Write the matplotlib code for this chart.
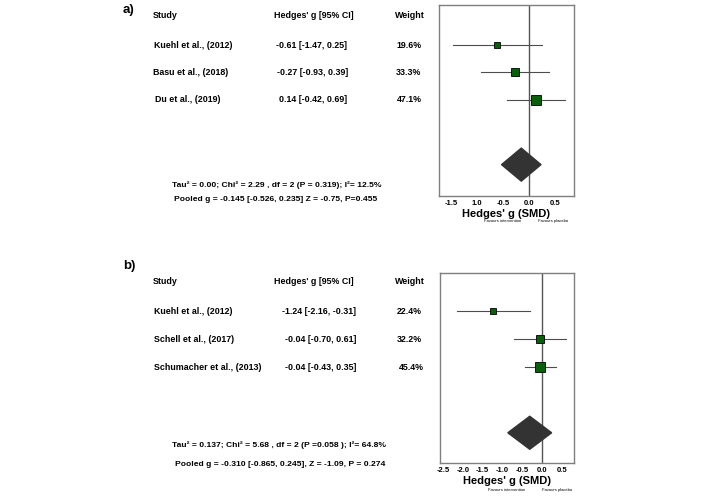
import matplotlib
matplotlib.use('Agg')
import matplotlib.pyplot as plt
from matplotlib.patches import Polygon

plt.rcParams['font.family'] = ['Liberation Sans', 'DejaVu Sans']
plt.rcParams['font.weight'] = 'bold'

# panel a
a_studies = ['Kuehl et al., (2012)', 'Basu et al., (2018)', 'Du et al., (2019)']
a_g = [-0.61, -0.27, 0.14]
a_lo = [-1.47, -0.93, -0.42]
a_hi = [0.25, 0.39, 0.69]
a_w = [19.6, 33.3, 47.1]
a_pool = [-0.145, -0.526, 0.235]
a_ticks = [-1.5, -1.0, -0.5, 0.0, 0.5]
a_ticklabels = ['-1.5', '1.0', '-0.5', '0.0', '0.5']
a_stats = ['Tau\u00b2 = 0.00; Chi\u00b2 = 2.29 , df = 2 (P = 0.319); I\u00b2= 12.5%',
           'Pooled g = -0.145 [-0.526, 0.235] Z = -0.75, P=0.455']

# panel b
b_studies = ['Kuehl et al., (2012)', 'Schell et al., (2017)', 'Schumacher et al., (2013)']
b_g = [-1.24, -0.04, -0.04]
b_lo = [-2.16, -0.70, -0.43]
b_hi = [-0.31, 0.61, 0.35]
b_w = [22.4, 32.2, 45.4]
b_pool = [-0.310, -0.865, 0.245]
b_ticks = [-2.5, -2.0, -1.5, -1.0, -0.5, 0.0, 0.5]
b_ticklabels = ['-2.5', '-2.0', '-1.5', '-1.0', '-0.5', '0.0', '0.5']
b_stats = ['Tau\u00b2 = 0.137; Chi\u00b2 = 5.68 , df = 2 (P =0.058 ); I\u00b2= 64.8%',
           'Pooled g = -0.310 [-0.865, 0.245], Z = -1.09, P = 0.274']

W, H = 706, 497
fig = plt.figure(figsize=(W / 100, H / 100), dpi=100)


def ftext(x, y, s, **kw):
    kw.setdefault('fontsize', 6.4)
    kw.setdefault('va', 'center')
    fig.text(x / W, 1 - y / H, s, **kw)


def forest(rect, g, lo, hi, w, pool, ticks, ticklabels, xlim, ylim, diam_h):
    ax = fig.add_axes(rect)
    rows = [1, 2, 3]
    for r, gi, l, h, wi in zip(rows, g, lo, hi, w):
        ax.plot([l, h], [r, r], color='#4d4d4d', lw=0.8, zorder=2)
        ax.plot(gi, r, 's', ms=2.8 + wi * 0.085, mfc='#0b5e0b', mec='black', mew=0.6, zorder=3)
    yp = 5.35
    ax.add_patch(Polygon([[pool[1], yp], [pool[0], yp - diam_h], [pool[2], yp], [pool[0], yp + diam_h]],
                         closed=True, color='#333333', zorder=3))
    ax.axvline(0, color='#555555', lw=1.0, zorder=1)
    ax.set_xlim(*xlim)
    ax.set_ylim(*ylim)
    ax.set_yticks([])
    ax.set_xticks(ticks)
    ax.set_xticklabels(ticklabels, fontsize=5.5, fontweight='bold')
    ax.tick_params(axis='x', length=0, pad=3)
    for sp in ax.spines.values():
        sp.set_color('#7f7f7f')
        sp.set_linewidth(1.0)
    ax.set_xlabel("Hedges' g (SMD)", fontsize=8, fontweight='bold', labelpad=1)
    return ax


forest([439 / W, 1 - 196 / H, 135 / W, 191 / H], a_g, a_lo, a_hi, a_w, a_pool,
       a_ticks, a_ticklabels, (-1.73, 0.87), (6.49, -0.45), 0.6)
forest([440 / W, 1 - 463 / H, 134 / W, 190 / H], b_g, b_lo, b_hi, b_w, b_pool,
       b_ticks, b_ticklabels, (-2.58, 0.81), (6.43, -0.36), 0.59)

# favours labels
ftext(503, 221, 'Favours intervention', fontsize=3, ha='center', fontweight='normal')
ftext(553, 221, 'Favours placebo', fontsize=3, ha='center', fontweight='normal')
ftext(507, 490, 'Favours intervention', fontsize=3, ha='center', fontweight='normal')
ftext(557, 490, 'Favours placebo', fontsize=3, ha='center', fontweight='normal')

# panel a texts
ftext(123, 10, 'a)', fontsize=9.5)
ftext(153, 16, 'Study')
ftext(274, 16, "Hedges' g [95% CI]")
ftext(395, 16, 'Weight')
for y, s, g, l, h, w, xs, xv, xw in zip([45, 72, 100], a_studies, a_g, a_lo, a_hi, a_w,
                                        [154, 153, 155], [276, 277, 279], [396, 396, 397]):
    ftext(xs, y, s)
    ftext(xv, y, f'{g:.2f} [{l:.2f}, {h:.2f}]')
    ftext(xw, y, f'{w:.1f}%')
ftext(172, 185, a_stats[0], fontsize=6.1)
ftext(174, 199, a_stats[1], fontsize=6.1)

# panel b texts
ftext(123, 266, 'b)', fontsize=9.5)
ftext(153, 282, 'Study')
ftext(274, 282, "Hedges' g [95% CI]")
ftext(395, 282, 'Weight')
for y, s, g, l, h, w, xs, xv, xw in zip([311, 339, 367], b_studies, b_g, b_lo, b_hi, b_w,
                                        [154, 154, 154], [282, 285, 285], [397, 397, 399]):
    ftext(xs, y, s)
    ftext(xv, y, f'{g:.2f} [{l:.2f}, {h:.2f}]')
    ftext(xw, y, f'{w:.1f}%')
ftext(172, 445, b_stats[0], fontsize=6.1)
ftext(175, 465, b_stats[1], fontsize=6.1)

fig.savefig('out.png', dpi=100)
